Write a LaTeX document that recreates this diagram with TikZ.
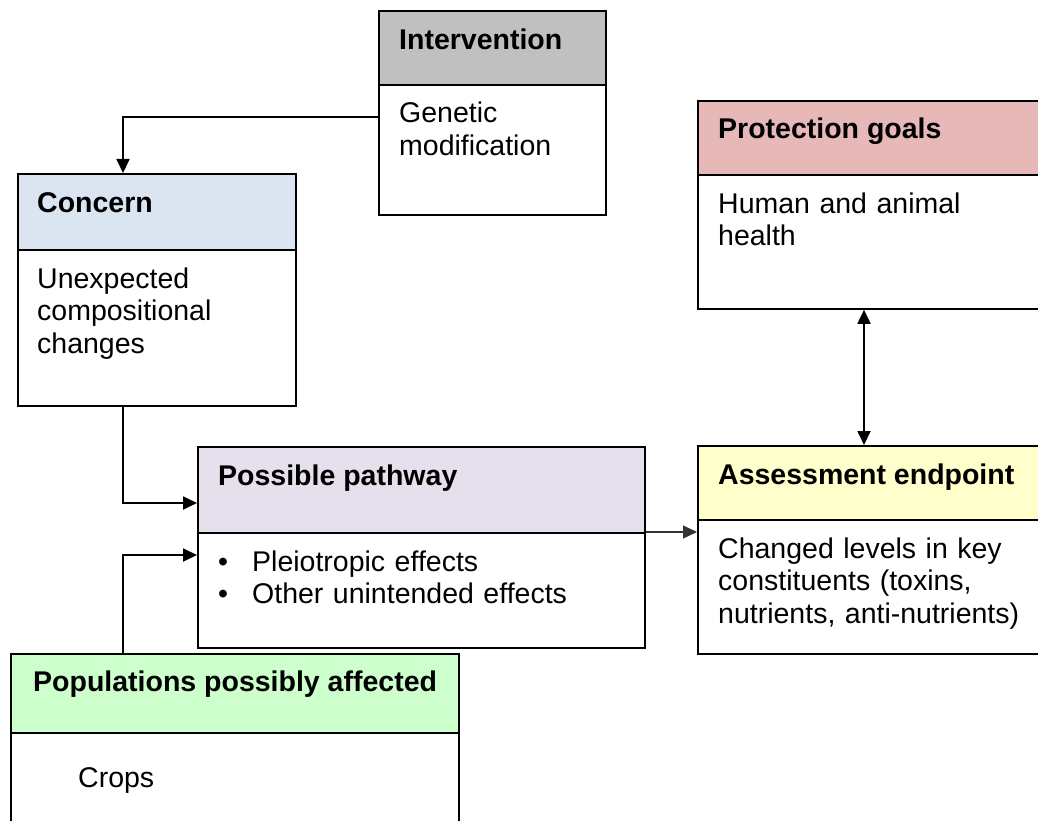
\documentclass[tikz,border=0pt]{standalone}
\usepackage{fontspec}
\setmainfont{Liberation Sans}
\usetikzlibrary{arrows.meta}

\definecolor{hdrgray}{HTML}{C0C0C0}
\definecolor{hdrblue}{HTML}{DBE5F1}
\definecolor{hdrrose}{HTML}{E6B9B8}
\definecolor{hdrlilac}{HTML}{E5E0EC}
\definecolor{hdryellow}{HTML}{FFFFCC}
\definecolor{hdrgreen}{HTML}{CCFFCC}

\newcommand{\diagfont}{\fontsize{28.5}{32.5}\selectfont}

\begin{document}
\begin{tikzpicture}[x=1pt, y=-1pt,
  panel/.style={draw=black, line width=1.8pt, inner sep=0pt, anchor=north west},
  divider/.style={draw=black, line width=1.8pt},
  head/.style={font=\diagfont\bfseries, anchor=base west, inner sep=0pt},
  body/.style={font=\diagfont, anchor=base west, inner sep=0pt, align=left, text width=#1},
  body/.default=300pt,
  conn/.style={line width=1.8pt, -{Triangle[length=14pt,width=13pt]}},
  thinconn/.style={line width=1.1pt, draw=black!80, -{Triangle[length=14pt,width=13pt]}},
  twoway/.style={line width=1.8pt, {Triangle[length=14pt,width=13pt]}-{Triangle[length=14pt,width=13pt]}}
]
\useasboundingbox (0,0) rectangle (1038,821);
\clip (0,0) rectangle (1038,821);
\fill[white] (0,0) rectangle (1038,821);

% Intervention
\fill[hdrgray] (378,10) rectangle (605,85);
\node[panel, minimum width=227pt, minimum height=204pt] (interv) at (378,10) {};
\draw[divider] (378,85) -- (605,85);
\node[head] (interv-h) at (399,50) {Intervention};
\node[body=190pt] (interv-b) at (399,123) {Genetic\\modification};

% Concern
\fill[hdrblue] (17,173) rectangle (295,250);
\node[panel, minimum width=278pt, minimum height=232pt] (concern) at (17,173) {};
\draw[divider] (17,250) -- (295,250);
\node[head] (concern-h) at (37,212) {Concern};
\node[body=250pt] (concern-b) at (37,288) {Unexpected\\compositional\\changes};

% Protection goals
\fill[hdrrose] (697,100) rectangle (1060,175);
\node[panel, minimum width=363pt, minimum height=208pt] (protect) at (697,100) {};
\draw[divider] (697,175) -- (1060,175);
\node[head] (protect-h) at (718,139) {Protection goals};
\node[body=320pt] (protect-b) at (718,213) {Human and animal\\health};

% Possible pathway
\fill[hdrlilac] (197,446) rectangle (644,533);
\node[panel, minimum width=447pt, minimum height=201pt] (pathway) at (197,446) {};
\draw[divider] (197,533) -- (644,533);
\node[head] (pathway-h) at (218,485) {Possible pathway};
\node[body=420pt] (pathway-b) at (218,571)
  {\makebox[34pt][l]{•}Pleiotropic effects\\\makebox[34pt][l]{•}Other unintended effects};

% Assessment endpoint
\fill[hdryellow] (697,445) rectangle (1060,520);
\node[panel, minimum width=363pt, minimum height=208pt] (assess) at (697,445) {};
\draw[divider] (697,520) -- (1060,520);
\node[head] (assess-h) at (718,484) {Assessment endpoint};
\node[body=330pt] (assess-b) at (718,558)
  {Changed levels in key\\constituents (toxins,\\nutrients, anti-nutrients)};

% Populations possibly affected
\fill[hdrgreen] (10,653) rectangle (458,733);
\node[panel, minimum width=448pt, minimum height=200pt] (popul) at (10,653) {};
\draw[divider] (10,733) -- (458,733);
\node[head] (popul-h) at (33,691) {Populations possibly affected};
\node[body=300pt] (popul-b) at (78,787) {Crops};

% Connectors
\draw[conn] (interv.west |- 0,117) -| (123,0 |- concern.north);
\draw[conn] (123,0 |- concern.south) |- (pathway.west |- 0,503);
\draw[conn] (123,0 |- popul.north) |- (pathway.west |- 0,555);
\draw[thinconn] (pathway.east |- 0,532) -- (assess.west |- 0,532);
\draw[twoway] (864,0 |- protect.south) -- (864,0 |- assess.north);
\end{tikzpicture}
\end{document}
